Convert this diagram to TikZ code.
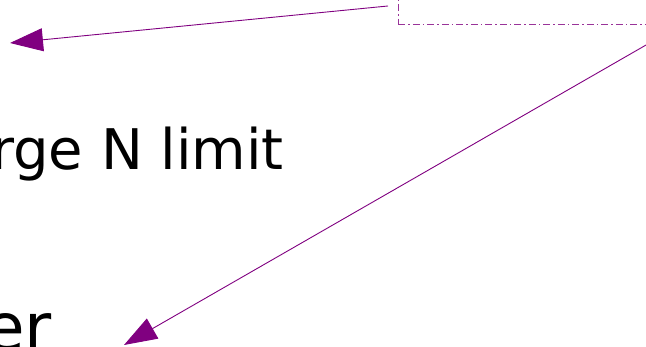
\documentclass[tikz,border=0pt]{standalone}
\usepackage{fontspec}
\setmainfont{DejaVu Sans}
\usetikzlibrary{arrows.meta}
\definecolor{notepurple}{RGB}{128, 0, 128}

\begin{document}
\begin{tikzpicture}[x=1pt, y=1pt,
  bigtext/.style={inner sep=0pt, anchor=base west, font=\fontsize{56}{60}\selectfont},
  hugetext/.style={inner sep=0pt, anchor=base east, font=\fontsize{66}{72}\selectfont},
  notebox/.style={draw=notepurple!80, line width=0.7pt, dash pattern=on 7pt off 3pt on 1.5pt off 3pt},
  pointer/.style={draw=notepurple, line width=0.9pt, -{Triangle[length=33pt, width=23pt]}}
]
  \useasboundingbox (0,0) rectangle (646,347);
  \clip (0,0) rectangle (646,347);
  \node[bigtext] (limit) at (-9,177) {rge N limit};
  \node[hugetext] (tail) at (52,-4) {er};
  \node[notebox, anchor=south west, minimum width=300pt, minimum height=80pt] (note) at (398,322) {};
  \coordinate (src1) at (388,341);
  \coordinate (tip1) at (10,304);
  \coordinate (src2) at (660,310);
  \coordinate (tip2) at (124,2);
  \draw[pointer] (src1) -- (tip1);
  \draw[pointer] (src2) -- (tip2);
\end{tikzpicture}
\end{document}
